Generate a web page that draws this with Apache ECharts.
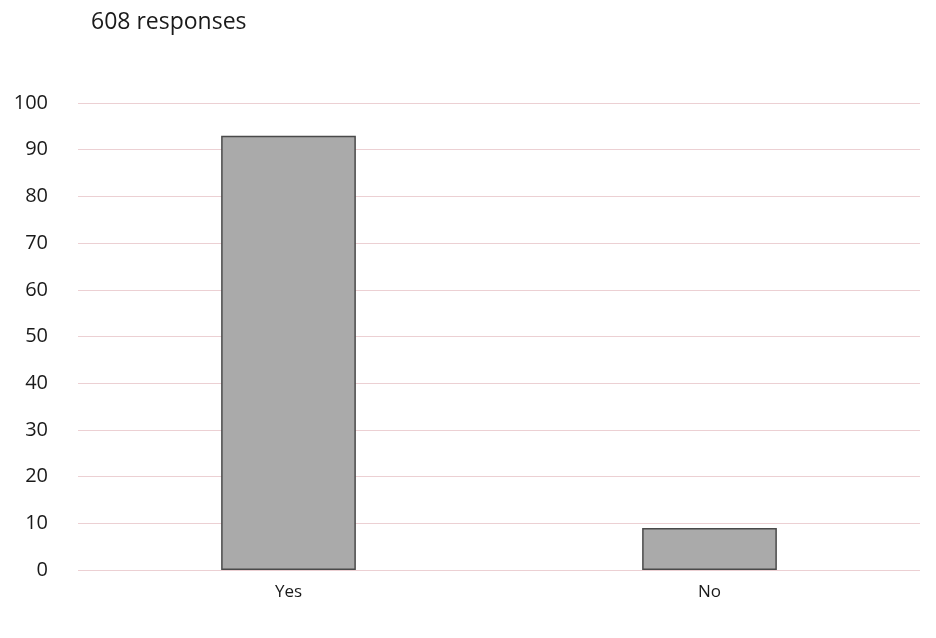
<!DOCTYPE html>
<html>
<head>
<meta charset="utf-8">
<script src="https://cdn.jsdelivr.net/npm/echarts@6/dist/echarts.min.js"></script>
<style>html,body{margin:0;padding:0;background:#fff;}#c{width:936px;height:638px;}</style>
</head>
<body>
<div id="c"></div>
<script>
const categories = ['Yes', 'No'];
const values = [93, 9];
const yTicks = [0, 10, 20, 30, 40, 50, 60, 70, 80, 90, 100];

const chart = echarts.init(document.getElementById('c'));
chart.setOption({
  backgroundColor: '#ffffff',
  animation: false,
  title: {
    text: '608 responses',
    left: 86, top: 6,
    textStyle: { fontFamily: 'Open Sans', fontSize: 23, fontWeight: 'normal', color: '#1a1a1a' }
  },
  grid: { left: 78, right: 16, top: 103, bottom: 68 },
  xAxis: {
    type: 'category',
    data: categories,
    axisLine: { show: false },
    axisTick: { show: false },
    axisLabel: { fontFamily: 'Open Sans', fontSize: 17, color: '#1a1a1a', margin: 14 }
  },
  yAxis: {
    type: 'value',
    min: yTicks[0], max: yTicks[yTicks.length - 1], interval: 10,
    axisLine: { show: false },
    axisTick: { show: false },
    axisLabel: { fontFamily: 'Open Sans', fontSize: 20, color: '#1a1a1a', margin: 30 },
    splitLine: { lineStyle: { color: '#ecd0d3', width: 1 } }
  },
  series: [{
    type: 'bar',
    data: values,
    barWidth: '32%',
    itemStyle: { color: '#aaaaaa', borderColor: '#4a4a4a', borderWidth: 1.5 }
  }]
});
</script>
</body>
</html>
